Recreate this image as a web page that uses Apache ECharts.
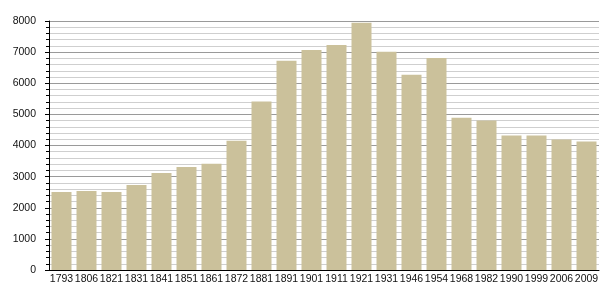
<!DOCTYPE html>
<html><head><meta charset="utf-8">
<script src="https://cdn.jsdelivr.net/npm/echarts@6/dist/echarts.min.js"></script>
<style>html,body{margin:0;padding:0;background:#fff}#c{width:605px;height:300px}</style>
</head><body><div id="c"></div>
<script>
var years = ['1793','1806','1821','1831','1841','1851','1861','1872','1881','1891','1901','1911','1921','1931','1946','1954','1968','1982','1990','1999','2006','2009'];
var population = [2510,2540,2510,2730,3120,3310,3410,4150,5410,6720,7070,7230,7940,7010,6270,6810,4890,4800,4320,4320,4190,4130];
var yTicks = [0,1000,2000,3000,4000,5000,6000,7000,8000];

var chart = echarts.init(document.getElementById('c'), null, {renderer:'canvas'});
chart.setOption({
  animation:false,
  backgroundColor:'#ffffff',
  grid:{left:49,right:6,top:21,bottom:30,containLabel:false},
  xAxis:{
    type:'category', data:years,
    axisLine:{show:true,lineStyle:{color:'#000',width:1}},
    axisTick:{show:false},
    axisLabel:{color:'#111',fontFamily:'Liberation Sans, Arial, sans-serif',fontSize:10.5,margin:4,interval:0},
    splitLine:{show:false}
  },
  yAxis:{
    type:'value', min:yTicks[0], max:yTicks[yTicks.length-1], interval:1000,
    axisLine:{show:true,lineStyle:{color:'#000',width:1}},
    axisTick:{show:true,length:4,lineStyle:{color:'#000'}},
    minorTick:{show:true,splitNumber:5,length:3,lineStyle:{color:'#000'}},
    axisLabel:{color:'#111',fontFamily:'Liberation Sans, Arial, sans-serif',fontSize:10.5,margin:13,
      formatter:function(v){return String(v);}},
    splitLine:{show:true,lineStyle:{color:'#9a9a9a',width:1}},
    minorSplitLine:{show:true,lineStyle:{color:'#cfcfcf',width:1}}
  },
  series:[{
    type:'bar', data:population, barCategoryGap:'20%',
    itemStyle:{color:'#cbc19b'}
  }]
});
</script></body></html>
